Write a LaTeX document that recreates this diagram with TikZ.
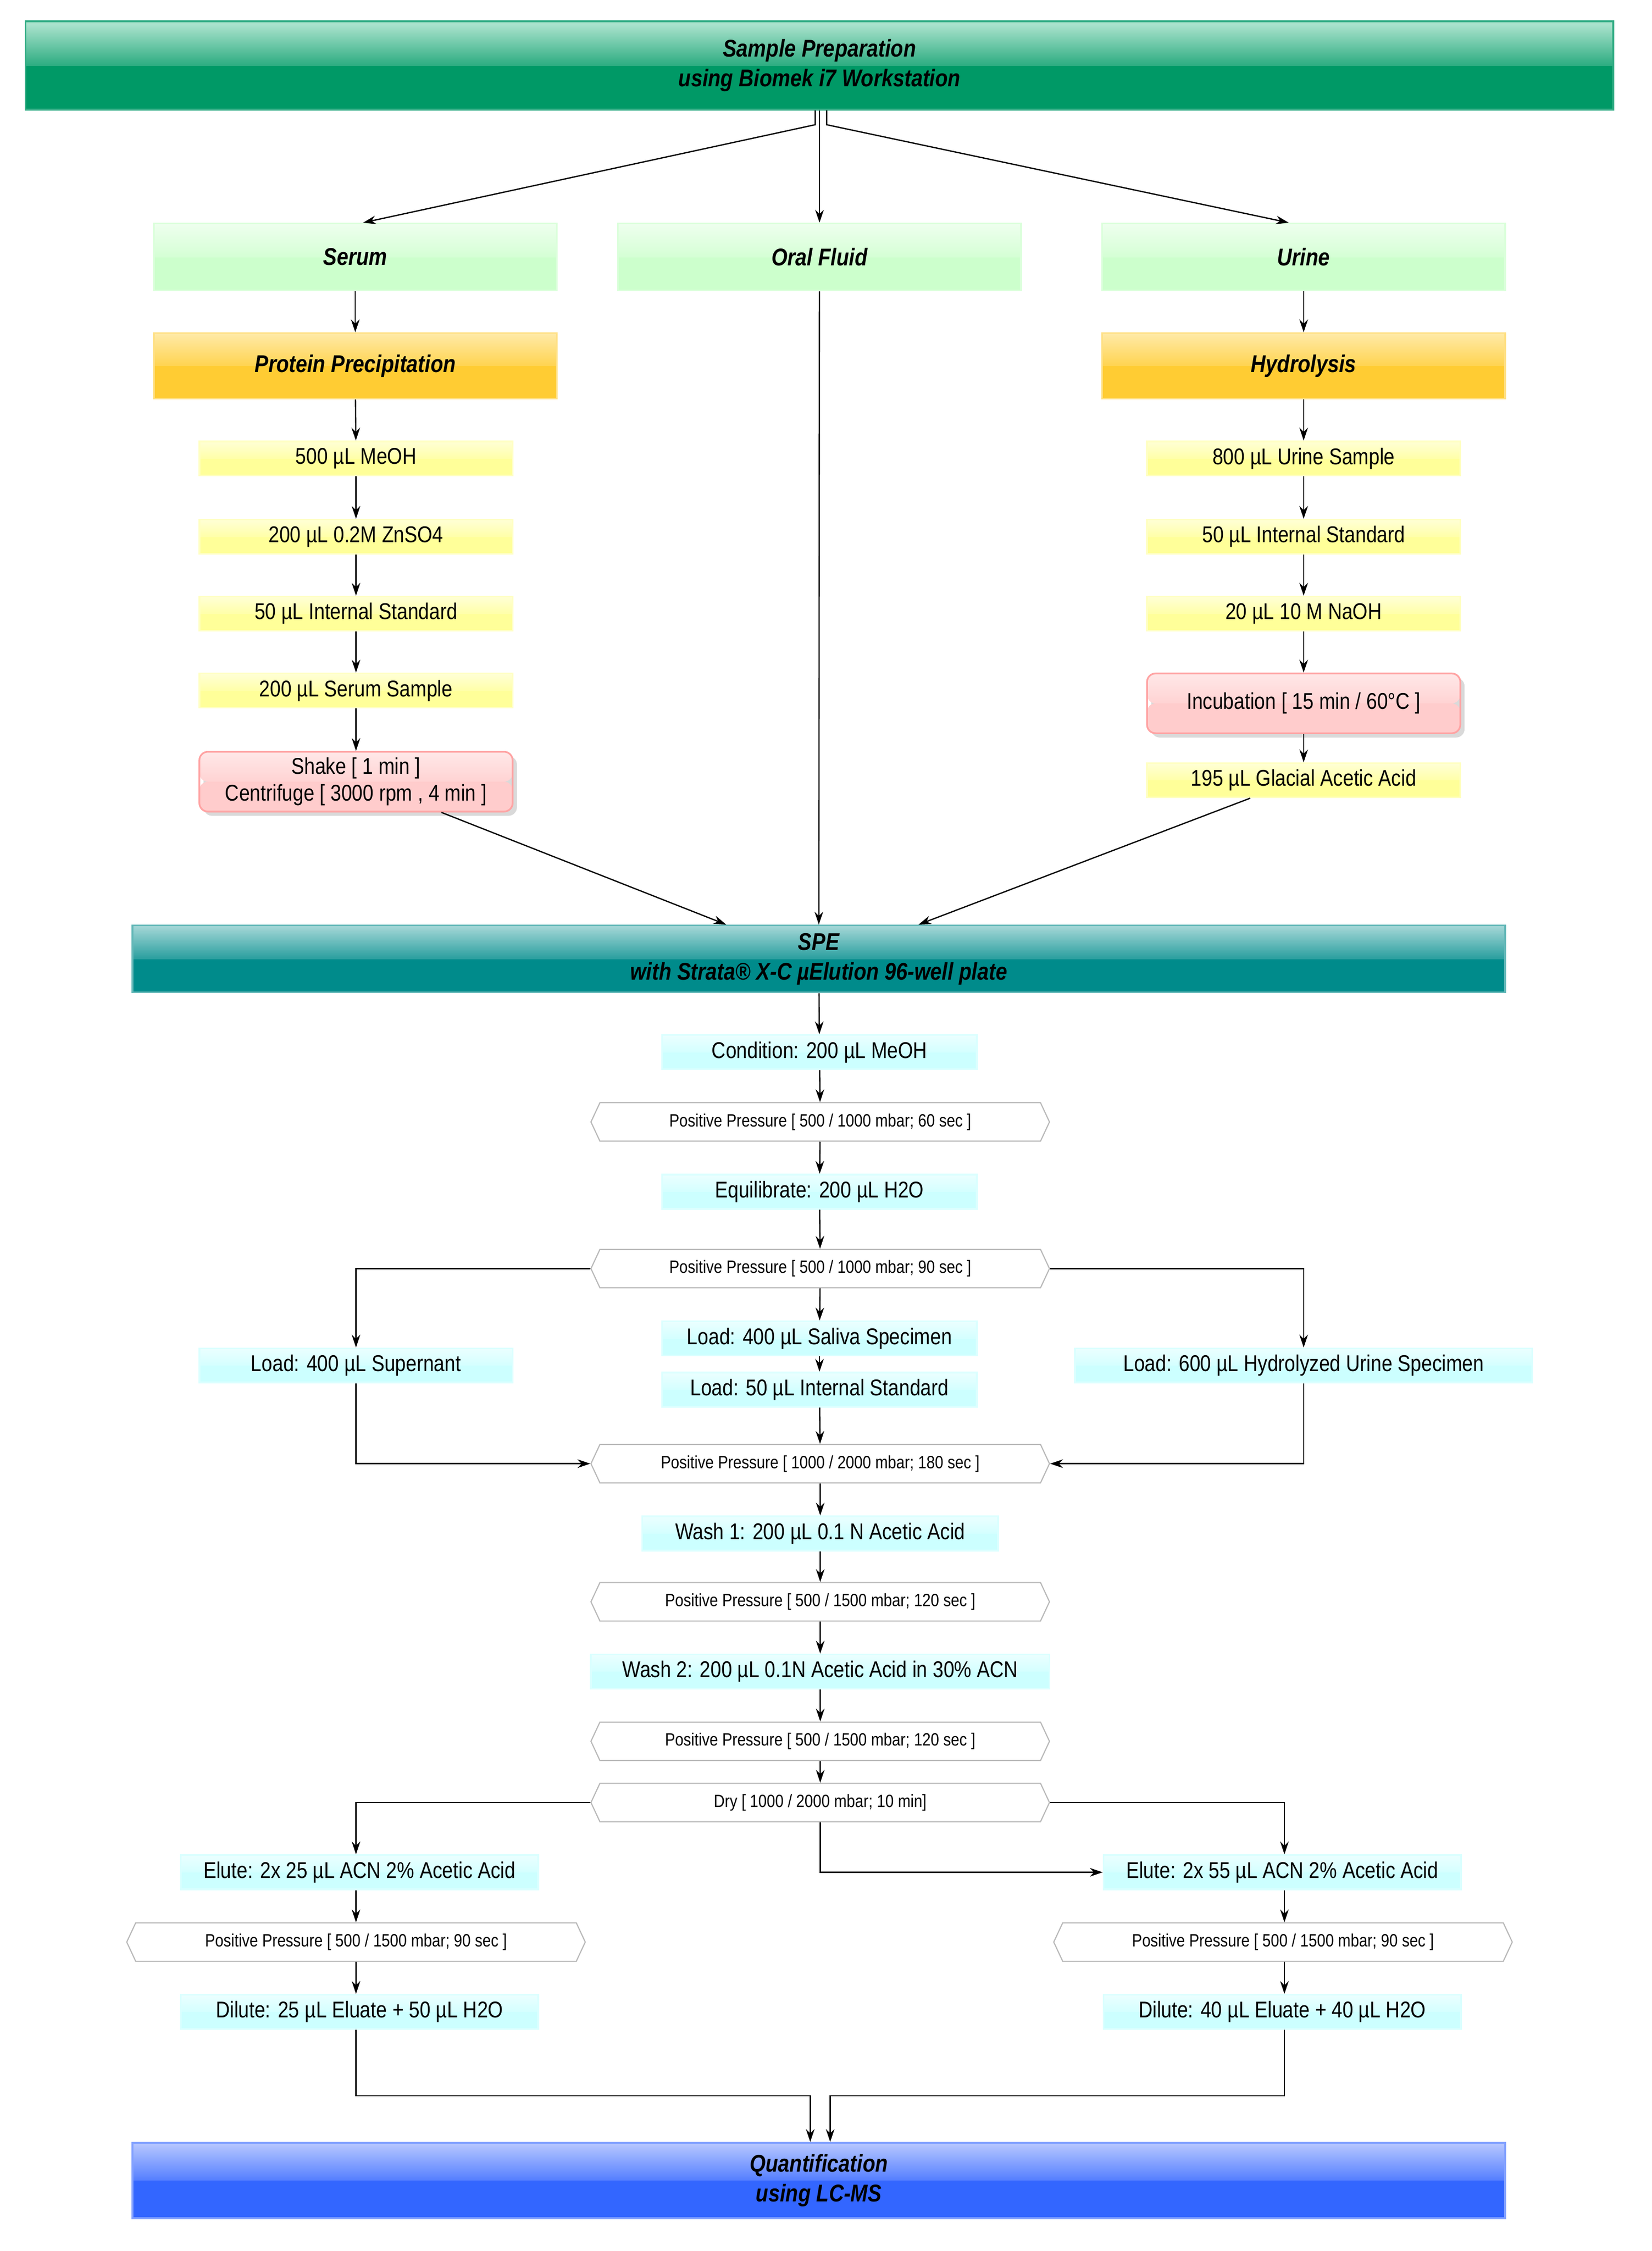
\documentclass[tikz,border=0pt]{standalone}
\usepackage{fontspec}
\setmainfont[FakeStretch=0.85]{Liberation Sans}
\usetikzlibrary{arrows.meta,shapes.symbols,shadows}
\definecolor{gdark}{HTML}{009966}\definecolor{glight}{HTML}{B3E6D2}\definecolor{gmid}{HTML}{33AD85}
\definecolor{sdark}{HTML}{CCFFCC}\definecolor{slight}{HTML}{EEFFEE}
\definecolor{odark}{HTML}{FFCC33}\definecolor{olight}{HTML}{FFEAA8}
\definecolor{ydark}{HTML}{FFFF99}\definecolor{ylight}{HTML}{FFFFD6}
\definecolor{pdark}{HTML}{FFCCCC}\definecolor{plight}{HTML}{FFE8E8}
\definecolor{cdark}{HTML}{CCFFFF}\definecolor{clight}{HTML}{EBFFFF}
\definecolor{tdark}{HTML}{008B8B}\definecolor{tlight}{HTML}{A6D8D8}
\definecolor{bdark}{HTML}{3366FF}\definecolor{blight}{HTML}{B8C8FF}
\tikzset{
 gloss/.style n args={3}{draw=#3, line width=1.2pt,
  path picture={\fill[#1] (path picture bounding box.west) rectangle (path picture bounding box.south east);
   \shade[top color=#2, bottom color=#1!75!#2] (path picture bounding box.north west) rectangle (path picture bounding box.east);}},
 box/.style={minimum width=#1, minimum height=24pt, inner sep=0pt, align=center, font=\fontsize{16}{19}\selectfont},
 head/.style={inner sep=0pt, align=center, font=\fontsize{17}{21}\selectfont\bfseries\itshape},
 grn/.style={gloss={gdark}{glight}{gmid}, head, minimum width=1115pt, minimum height=62pt},
 lgrn/.style={gloss={sdark}{slight}{sdark!70!white}, head, minimum width=283pt, minimum height=47pt},
 orn/.style={gloss={odark}{olight}{odark!60!white}, head, minimum width=283pt, minimum height=46pt},
 yel/.style={gloss={ydark}{ylight}{ydark!60!white}, box=220pt},
 pnk/.style={gloss={pdark}{plight}{pdark!80!red}, box=220pt, minimum height=42pt, rounded corners=6pt, drop shadow={opacity=0.3, shadow xshift=3pt, shadow yshift=-3pt}},
 cyn/.style={gloss={cdark}{clight}{cdark!70!white}, box=#1},
 bar/.style n args={2}{gloss={#1}{#2}{#1!60!white}, head, minimum width=964pt},
 hexa/.style={signal, signal to=west and east, signal pointer angle=130, draw=gray!55, line width=0.8pt, fill=white,
   minimum width=322pt, minimum height=27pt, inner sep=0pt, font=\fontsize{12.5}{15}\selectfont},
 arr/.style={-{Stealth[length=9pt,width=6pt]}, line width=0.9pt},
}
\begin{document}
\begin{tikzpicture}[x=1pt,y=-1pt]
\useasboundingbox (0,0) rectangle (1160,1581);
\node[grn] (top) at (575.5,46) {Sample Preparation\\using Biomek i7 Workstation};
\node[lgrn] (serum) at (249.5,180.5) {Serum};
\node[lgrn] (oral) at (575.5,180.5) {Oral Fluid};
\node[lgrn] (urine) at (915.5,180.5) {Urine};
\node[orn] (pp) at (249.5,257) {Protein Precipitation};
\node[orn] (hyd) at (915.5,257) {Hydrolysis};
\node[yel] (l1) at (250,322) {500 µL MeOH};
\node[yel] (l2) at (250,377) {200 µL 0.2M ZnSO4};
\node[yel] (l3) at (250,431) {50 µL Internal Standard};
\node[yel] (l4) at (250,485) {200 µL Serum Sample};
\node[pnk] (shake) at (250,549) {Shake [ 1 min ]\\Centrifuge [ 3000 rpm , 4 min ]};
\node[yel] (r1) at (915.5,322) {800 µL Urine Sample};
\node[yel] (r2) at (915.5,377) {50 µL Internal Standard};
\node[yel] (r3) at (915.5,431) {20 µL 10 M NaOH};
\node[pnk] (inc) at (915.5,494) {Incubation [ 15 min / 60°C ]};
\node[yel] (r4) at (915.5,548) {195 µL Glacial Acetic Acid};
\node[bar={tdark}{tlight}, minimum height=47pt] (spe) at (575,673.5) {SPE\\with Strata® X-C µElution 96-well plate};
\node[cyn=221pt] (cond) at (575.5,739) {Condition: 200 µL MeOH};
\node[hexa] (h1) at (576,788) {Positive Pressure [ 500 / 1000 mbar; 60 sec ]};
\node[cyn=221pt] (equ) at (575.5,837) {Equilibrate: 200 µL H2O};
\node[hexa] (h2) at (576,891) {Positive Pressure [ 500 / 1000 mbar; 90 sec ]};
\node[cyn=221pt] (sal) at (575.5,940) {Load: 400 µL Saliva Specimen};
\node[cyn=221pt] (lis) at (575.5,976) {Load: 50 µL Internal Standard};
\node[cyn=220pt] (sup) at (250,959) {Load: 400 µL Supernant};
\node[cyn=321pt] (lur) at (915.5,959) {Load: 600 µL Hydrolyzed Urine Specimen};
\node[hexa] (h3) at (576,1028) {Positive Pressure [ 1000 / 2000 mbar; 180 sec ]};
\node[cyn=250pt] (w1) at (576,1077) {Wash 1: 200 µL 0.1 N Acetic Acid};
\node[hexa] (h4) at (576,1125) {Positive Pressure [ 500 / 1500 mbar; 120 sec ]};
\node[cyn=322pt] (w2) at (576,1174) {Wash 2: 200 µL 0.1N Acetic Acid in 30\% ACN};
\node[hexa] (h5) at (576,1223) {Positive Pressure [ 500 / 1500 mbar; 120 sec ]};
\node[hexa] (dry) at (576,1266) {Dry [ 1000 / 2000 mbar; 10 min]};
\node[cyn=251pt] (el) at (252.5,1315) {Elute: 2x 25 µL ACN 2\% Acetic Acid};
\node[cyn=251pt] (er) at (900.5,1315) {Elute: 2x 55 µL ACN 2\% Acetic Acid};
\node[hexa] (hl) at (250,1364) {Positive Pressure [ 500 / 1500 mbar; 90 sec ]};
\node[hexa] (hr) at (901,1364) {Positive Pressure [ 500 / 1500 mbar; 90 sec ]};
\node[cyn=251pt] (dl) at (252.5,1413) {Dilute: 25 µL Eluate + 50 µL H2O};
\node[cyn=251pt] (dr) at (900.5,1413) {Dilute: 40 µL Eluate + 40 µL H2O};
\node[bar={bdark}{blight}, minimum height=53pt] (q) at (575,1531.5) {Quantification\\using LC-MS};
% connectors
\draw[arr] (top.south) ++(-3,0) -- ++(0,10) -- (serum.north -| 255,0);
\draw[arr] (top.south) -- (oral.north);
\draw[arr] (top.south) ++(5,0) -- ++(0,10) -- (urine.north -| 905,0);
\draw[arr] (serum) -- (pp);
\draw[arr] (pp) -- (l1); \draw[arr] (l1) -- (l2); \draw[arr] (l2) -- (l3); \draw[arr] (l3) -- (l4); \draw[arr] (l4) -- (shake);
\draw[arr] (urine) -- (hyd);
\draw[arr] (hyd) -- (r1); \draw[arr] (r1) -- (r2); \draw[arr] (r2) -- (r3); \draw[arr] (r3) -- (inc); \draw[arr] (inc) -- (r4);
\draw[arr] (shake.south -| 310,0) -- (spe.north -| 510,0);
\draw[arr] (oral) -- (spe);
\draw[arr] (r4.south -| 878,0) -- (spe.north -| 645,0);
\draw[arr] (spe) -- (cond); \draw[arr] (cond) -- (h1); \draw[arr] (h1) -- (equ); \draw[arr] (equ) -- (h2);
\draw[arr] (h2) -- (sal); \draw[arr] (sal) -- (lis); \draw[arr] (lis) -- (h3);
\draw[arr] (h2.west) -| (sup.north);
\draw[arr] (h2.east) -| (lur.north);
\draw[arr] (sup.south) |- (h3.west);
\draw[arr] (lur.south) |- (h3.east);
\draw[arr] (h3) -- (w1); \draw[arr] (w1) -- (h4); \draw[arr] (h4) -- (w2); \draw[arr] (w2) -- (h5); \draw[arr] (h5) -- (dry);
\draw[arr] (dry.west) -| (el.north -| 250,0);
\draw[arr] (dry.east) -| (er.north -| 902,0);
\draw[arr] (dry.south) |- (er.west);
\draw[arr] (el.south -| 250,0) -- (hl.north); \draw[arr] (hl) -- (dl.north -| 250,0);
\draw[arr] (er.south -| 902,0) -- (hr.north -| 902,0); \draw[arr] (hr.south -| 902,0) -- (dr.north -| 902,0);
\draw[arr] (dl.south -| 250,0) -- (250,1472) -- (569,1472) -- (q.north -| 569,0);
\draw[arr] (dr.south -| 902,0) -- (902,1472) -- (583,1472) -- (q.north -| 583,0);
\end{tikzpicture}
\end{document}
